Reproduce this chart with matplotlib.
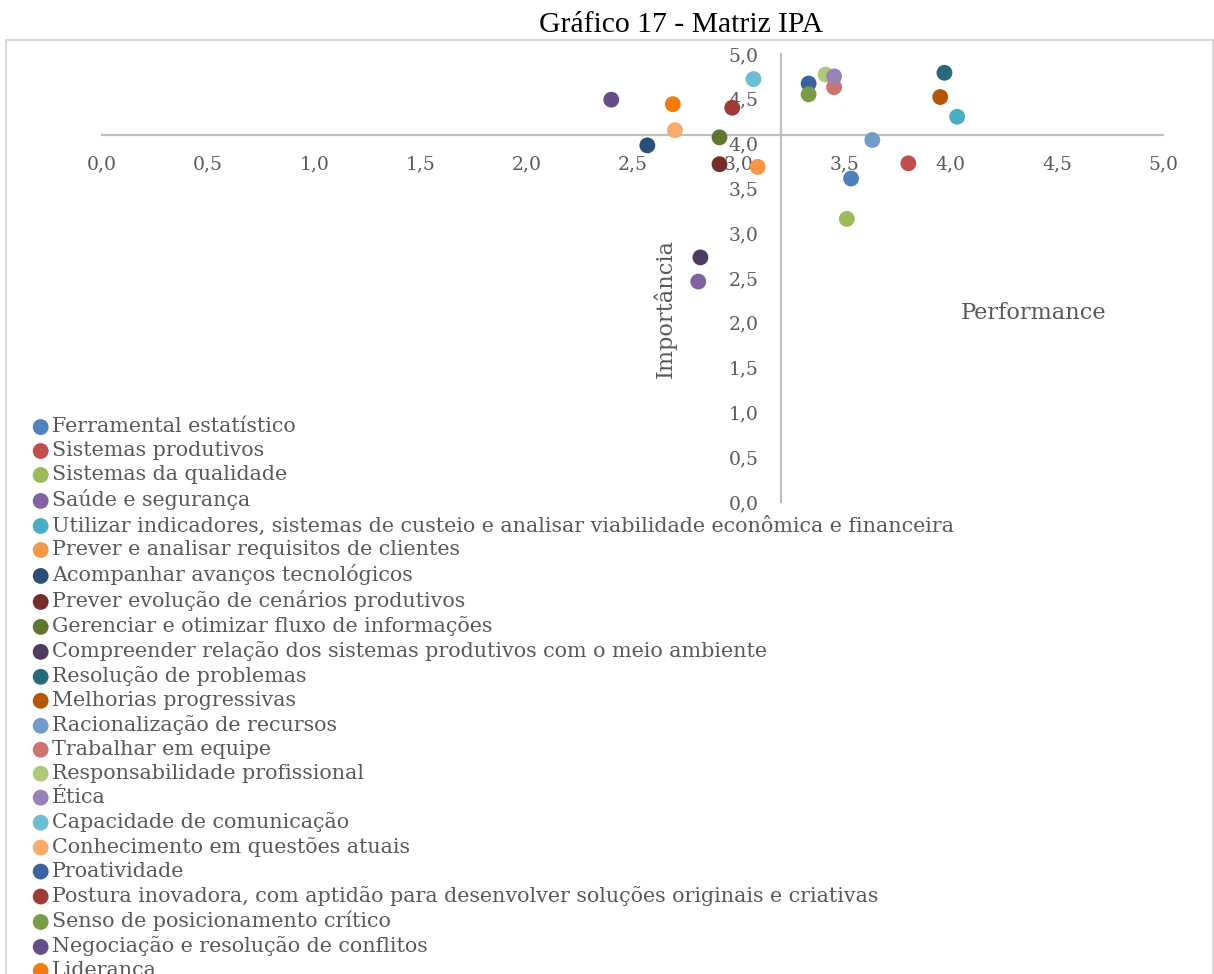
import matplotlib
matplotlib.use("Agg")
import matplotlib.pyplot as plt
from matplotlib.patches import Rectangle
from matplotlib.ticker import FuncFormatter, MultipleLocator

# ---- data ----
labels = [
    "Ferramental estatístico",
    "Sistemas produtivos",
    "Sistemas da qualidade",
    "Saúde e segurança",
    "Utilizar indicadores, sistemas de custeio e analisar viabilidade econômica e financeira",
    "Prever e analisar requisitos de clientes",
    "Acompanhar avanços tecnológicos",
    "Prever evolução de cenários produtivos",
    "Gerenciar e otimizar fluxo de informações",
    "Compreender relação dos sistemas produtivos com o meio ambiente",
    "Resolução de problemas",
    "Melhorias progressivas",
    "Racionalização de recursos",
    "Trabalhar em equipe",
    "Responsabilidade profissional",
    "Ética",
    "Capacidade de comunicação",
    "Conhecimento em questões atuais",
    "Proatividade",
    "Postura inovadora, com aptidão para desenvolver soluções originais e criativas",
    "Senso de posicionamento crítico",
    "Negociação e resolução de conflitos",
    "Liderança",
]
performance = [3.53, 3.80, 3.51, 2.81, 4.03, 3.09, 2.57, 2.91, 2.91, 2.82, 3.97, 3.95,
               3.63, 3.45, 3.41, 3.45, 3.07, 2.70, 3.33, 2.97, 3.33, 2.40, 2.69]
importancia = [3.61, 3.78, 3.16, 2.46, 4.30, 3.74, 3.98, 3.77, 4.07, 2.73, 4.79, 4.52,
               4.04, 4.63, 4.77, 4.75, 4.72, 4.15, 4.67, 4.40, 4.55, 4.49, 4.44]
colors = ["#4F81BD", "#C0504D", "#9BBB59", "#8064A2", "#4BACC6", "#F79646",
          "#2C4D75", "#772C2A", "#5F7530", "#4D3B62", "#276A7C", "#B65708",
          "#729ACA", "#CD7371", "#AFC97A", "#9983B5", "#6FBDD1", "#F9AB6B",
          "#3A64A0", "#9E3B39", "#7A9C42", "#664C88", "#F27B0E"]
x_cross = 3.2
y_cross = 4.1
title = "Gráfico 17 - Matriz IPA"
xlabel = "Performance"
ylabel = "Importância"

W, H = 1214, 974
fig = plt.figure(figsize=(W / 100, H / 100), dpi=100)

# outer chart border (bottom runs past the image edge)
top_frac = 1 - 39.5 / H
fig.patches.append(Rectangle((6 / W, -0.02), (1213 - 6) / W, top_frac + 0.02,
                             transform=fig.transFigure, fill=False,
                             edgecolor="#D9D9D9", linewidth=1.5))

ax_left, ax_right = 102, 1163
ax_top, ax_bottom = 54, 502
ax = fig.add_axes([ax_left / W, (H - ax_bottom) / H,
                   (ax_right - ax_left) / W, (ax_bottom - ax_top) / H])
ax.set_facecolor("none")
ax.set_xlim(0, 5)
ax.set_ylim(0, 5)

axis_col = "#BFBFBF"
txt_col = "#595959"
serif = ["DejaVu Serif"]

for s in ["top", "right"]:
    ax.spines[s].set_visible(False)
ax.spines["bottom"].set_position(("data", y_cross))
ax.spines["left"].set_position(("data", x_cross))
for s in ["bottom", "left"]:
    ax.spines[s].set_color(axis_col)
    ax.spines[s].set_linewidth(1.6)

fmt = FuncFormatter(lambda v, p: f"{v:.1f}".replace(".", ","))
ax.xaxis.set_major_locator(MultipleLocator(0.5))
ax.yaxis.set_major_locator(MultipleLocator(0.5))
ax.xaxis.set_major_formatter(fmt)
ax.yaxis.set_major_formatter(fmt)
ax.tick_params(axis="x", length=0, pad=15, labelsize=13.5, labelcolor=txt_col)
ax.tick_params(axis="y", length=0, pad=16, labelsize=13.5, labelcolor=txt_col)
for lab in ax.get_xticklabels() + ax.get_yticklabels():
    lab.set_family(serif)

handles = []
for i in range(len(labels)):
    h = ax.scatter(performance[i], importancia[i], s=130, color=colors[i],
                   edgecolors="none", label=labels[i], zorder=3, clip_on=False)
    handles.append(h)

fig.text(681 / W, 1 - 25 / H, title, ha="center", va="center",
         fontsize=21.3, family=["Liberation Serif"], color="black")
fig.text(1034 / W, 1 - 313 / H, xlabel, ha="center", va="center",
         fontsize=16.2, family=serif, color=txt_col)
fig.text(665 / W, 1 - 309 / H, ylabel, ha="center", va="center", rotation=90,
         fontsize=16.2, family=serif, color=txt_col)

leg = fig.legend(handles=handles, loc="upper left",
                 bbox_to_anchor=(32.4 / W, 1 - 417.5 / H), frameon=False,
                 prop={"family": "DejaVu Serif", "size": 14.9},
                 labelcolor=txt_col, handlelength=0.8, handletextpad=0.15,
                 labelspacing=0.24, borderaxespad=0, borderpad=0,
                 markerscale=1.0, scatterpoints=1)

fig.savefig("out.png", dpi=100)
